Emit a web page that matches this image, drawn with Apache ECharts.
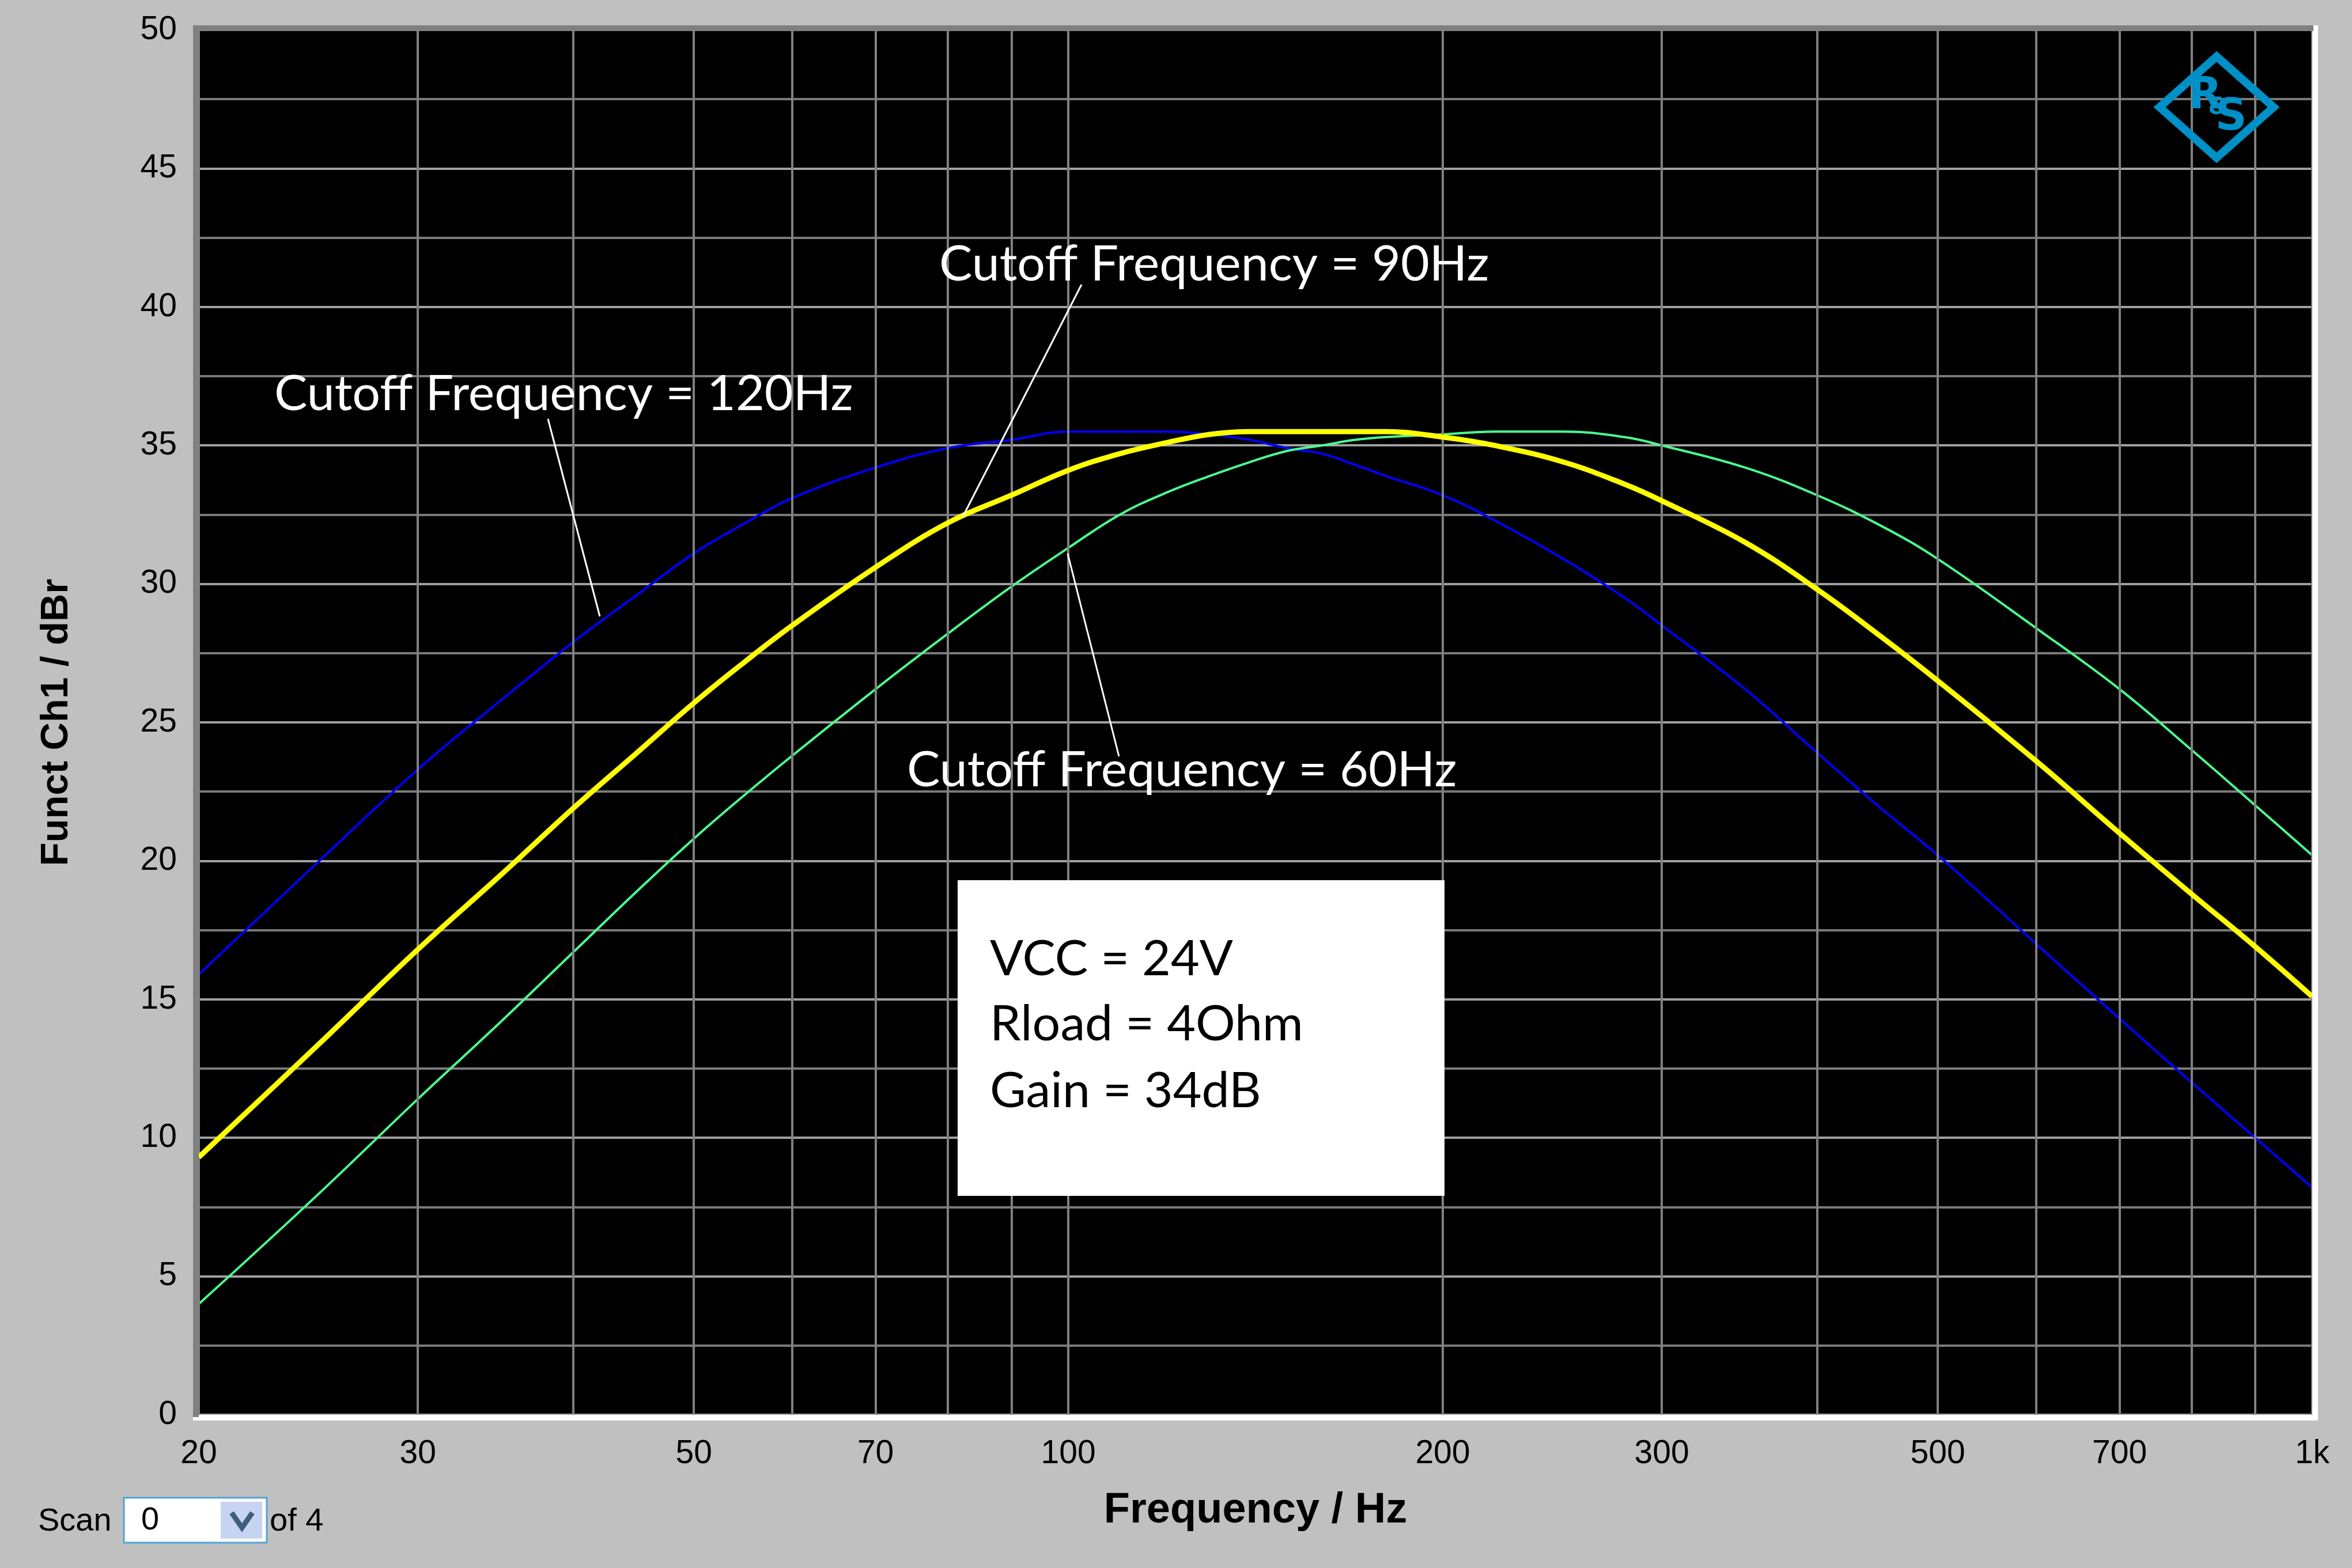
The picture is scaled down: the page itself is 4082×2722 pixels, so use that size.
<!doctype html>
<html>
<head>
<meta charset="UTF-8">
<title>Funct Ch1 / dBr</title>
<style>
	html, body { margin: 0; padding: 0; background: #c0c0c0; }
	#main { width: 4082px; height: 2722px; }
</style>
</head>
<body>
<div id="main"></div>
<script src="https://cdn.jsdelivr.net/npm/echarts@6/dist/echarts.min.js"></script>
<script type="text/javascript">
	// measured points, frequency in Hz / level in dBr
	var freqs = [20, 25, 30, 35, 40, 45, 50, 55, 60, 70, 80, 90, 100, 110, 120, 130, 140, 150, 160, 170, 180, 200, 220, 250, 280, 300, 350, 400, 450, 500, 600, 700, 800, 900, 1000];
	var cutoff120 = [15.9, 20.0, 23.3, 25.8, 27.9, 29.6, 31.1, 32.2, 33.1, 34.2, 34.9, 35.2, 35.5, 35.5, 35.5, 35.4, 35.2, 34.9, 34.7, 34.3, 33.9, 33.2, 32.3, 30.9, 29.5, 28.5, 26.2, 23.9, 21.9, 20.2, 17.0, 14.3, 12.0, 10.0, 8.2];
	var cutoff90 = [9.3, 13.4, 16.8, 19.5, 21.9, 23.9, 25.7, 27.2, 28.5, 30.6, 32.2, 33.2, 34.1, 34.7, 35.1, 35.4, 35.5, 35.5, 35.5, 35.5, 35.5, 35.3, 35.0, 34.4, 33.6, 33.0, 31.5, 29.8, 28.1, 26.5, 23.6, 21.0, 18.8, 16.9, 15.1];
	var cutoff60 = [4.0, 8.0, 11.4, 14.2, 16.7, 18.9, 20.8, 22.4, 23.8, 26.2, 28.2, 29.9, 31.3, 32.5, 33.3, 33.9, 34.4, 34.8, 35.0, 35.2, 35.3, 35.4, 35.5, 35.5, 35.3, 35.0, 34.2, 33.2, 32.1, 30.9, 28.4, 26.2, 24.0, 22.0, 20.2];

	// log axis grid and tick labels
	var gridFreqs = [20, 30, 40, 50, 60, 70, 80, 90, 100, 200, 300, 400, 500, 600, 700, 800, 900, 1000];
	var labelFreqs = [20, 30, 50, 70, 100, 200, 300, 500, 700, 1000];
	var xLabels = ['20', '30', '50', '70', '100', '200', '300', '500', '700', '1k'];

	var labelFont = "'Liberation Sans', Arial, sans-serif";
	var noteFont = "Lato, 'Open Sans', sans-serif";

	function curve(name, values, color, width, z) {
		return {
			name: name,
			type: 'line',
			z: z,
			smooth: 0.4,
			showSymbol: false,
			silent: true,
			lineStyle: { color: color, width: width },
			data: freqs.map(function(f, i) { return [f, values[i]]; })
		};
	}

	function note(x, y, txt, color) {
		return {
			type: 'text', x: x, y: y, z: 100, silent: true,
			style: { text: txt, fill: color, fontSize: 86, fontFamily: noteFont, verticalAlign: 'middle' }
		};
	}
	function leader(x1, y1, x2, y2) {
		return {
			type: 'line', z: 100, silent: true,
			shape: { x1: x1, y1: y1, x2: x2, y2: y2 },
			style: { stroke: '#fff', lineWidth: 3 }
		};
	}
	function strip(x, y, w, h, color) {
		return { type: 'rect', z: 100, silent: true, shape: { x: x, y: y, width: w, height: h }, style: { fill: color } };
	}

	var chart = echarts.init(document.getElementById('main'));
	var option = {
		backgroundColor: '#c0c0c0',
		animation: false,
		grid: {
			left: 345, right: 69, top: 52, bottom: 266,
			show: true, backgroundColor: '#000', borderWidth: 0
		},
		xAxis: {
			type: 'log',
			logBase: 10,
			min: 20,
			max: 1000,
			name: 'Frequency / Hz',
			nameLocation: 'middle',
			nameGap: 130,
			nameTextStyle: { fontFamily: labelFont, fontWeight: 'bold', fontSize: 74, color: '#000' },
			axisLine: { show: false },
			axisTick: { show: false },
			axisLabel: { show: false },
			splitLine: { show: false }
		},
		yAxis: {
			type: 'value',
			min: 0,
			max: 50,
			interval: 5,
			name: 'Funct Ch1 / dBr',
			nameLocation: 'middle',
			nameRotate: 90,
			nameGap: 213,
			nameTextStyle: { fontFamily: labelFont, fontWeight: 'bold', fontSize: 67, color: '#000' },
			axisLine: { show: false },
			axisTick: { show: false },
			axisLabel: { color: '#000', fontSize: 57, fontFamily: labelFont, margin: 38 },
			splitLine: { show: true, lineStyle: { color: '#a0a0a0', width: 4 } },
			minorTick: { show: false, splitNumber: 2 },
			minorSplitLine: { show: true, lineStyle: { color: '#7a7a7a', width: 4 } }
		},
		series: [{
			name: 'grid',
			type: 'line',
			z: 1,
			data: [],
			silent: true,
			markLine: {
				silent: true,
				animation: false,
				symbol: ['none', 'none'],
				lineStyle: { color: '#808080', width: 4, type: 'solid' },
				label: { show: false },
				data: gridFreqs.map(function(f) {
					var i = labelFreqs.indexOf(f);
					return {
						xAxis: f,
						label: {
							show: i >= 0,
							position: 'start',
							distance: 40,
							formatter: i >= 0 ? xLabels[i] : '',
							color: '#000',
							fontSize: 57,
							fontFamily: labelFont
						}
					};
				})
			}
		},
			curve('Cutoff Frequency = 120Hz', cutoff120, '#0000ff', 4, 3),
			curve('Cutoff Frequency = 60Hz', cutoff60, '#4cff8f', 4, 4),
			curve('Cutoff Frequency = 90Hz', cutoff90, '#ffff00', 9, 5)
		],
		graphic: [
			// sunken frame round the plot
			strip(335, 2456, 3688, 10, '#fff'),
			strip(4013, 44, 10, 2422, '#fff'),
			strip(335, 44, 3680, 10, '#808080'),
			strip(335, 44, 10, 2416, '#808080'),

			// annotations
			note(476, 684, 'Cutoff Frequency = 120Hz', '#fff'),
			leader(951, 727, 1041, 1070),
			note(1630, 459, 'Cutoff Frequency = 90Hz', '#fff'),
			leader(1877, 494, 1671, 897),
			note(1574, 1337, 'Cutoff Frequency = 60Hz', '#fff'),
			leader(1942, 1313, 1853, 961),

			// test conditions box
			strip(1662, 1528, 845, 548, '#fff'),
			note(1718, 1665, 'VCC = 24V', '#000'),
			note(1718, 1778, 'Rload = 4Ohm', '#000'),
			note(1718, 1894, 'Gain = 34dB', '#000'),

			// R&S logo
			{
				type: 'polygon', z: 100, silent: true,
				shape: { points: [[3847, 98], [3946, 186], [3847, 274], [3748, 186]] },
				style: { fill: 'none', stroke: '#0090c8', lineWidth: 14 }
			},
			{ type: 'text', x: 3827, y: 168, z: 100, silent: true,
				style: { text: 'R', fill: '#0090c8', fontSize: 76, fontWeight: 'bold', fontFamily: 'DejaVu Sans', align: 'center', verticalAlign: 'middle' } },
			{ type: 'text', x: 3850, y: 188, z: 100, silent: true,
				style: { text: '&', fill: '#0090c8', fontSize: 40, fontWeight: 'bold', fontFamily: 'DejaVu Sans', align: 'center', verticalAlign: 'middle' } },
			{ type: 'text', x: 3872, y: 205, z: 100, silent: true,
				style: { text: 'S', fill: '#0090c8', fontSize: 76, fontWeight: 'bold', fontFamily: 'DejaVu Sans', align: 'center', verticalAlign: 'middle' } },

			// scan selector
			{ type: 'text', x: 66, y: 2642, silent: true,
				style: { text: 'Scan', fill: '#000', fontSize: 56, fontFamily: labelFont, verticalAlign: 'middle' } },
			{ type: 'rect', silent: true, shape: { x: 215, y: 2600, width: 248, height: 78 },
				style: { fill: '#fff', stroke: '#4fa3d8', lineWidth: 3 } },
			{ type: 'rect', silent: true, shape: { x: 383, y: 2607, width: 72, height: 64 },
				style: { fill: '#c6d4f2' } },
			{ type: 'polyline', silent: true, shape: { points: [[402, 2626], [420, 2652], [438, 2626]] },
				style: { stroke: '#3d5f7a', lineWidth: 9, fill: 'none' } },
			{ type: 'text', x: 245, y: 2640, silent: true,
				style: { text: '0', fill: '#000', fontSize: 56, fontFamily: labelFont, verticalAlign: 'middle' } },
			{ type: 'text', x: 468, y: 2642, silent: true,
				style: { text: 'of 4', fill: '#000', fontSize: 56, fontFamily: labelFont, verticalAlign: 'middle' } }
		]
	};
	chart.setOption(option);
</script>
</body>
</html>
